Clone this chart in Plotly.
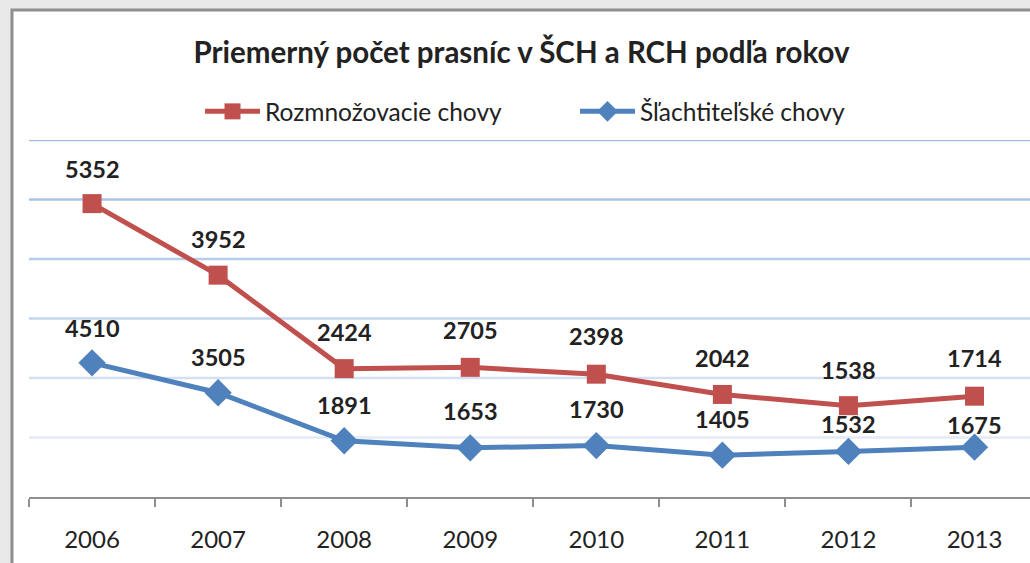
import plotly.graph_objects as go
import numpy as np

years = ["2006", "2007", "2008", "2009", "2010", "2011", "2012", "2013"]
slachtitelske = [4510, 3505, 1891, 1653, 1730, 1405, 1532, 1675]
rozmnozovacie = [5352, 3952, 2424, 2705, 2398, 2042, 1538, 1714]

title_text = "Priemerný počet prasníc v ŠCH a RCH podľa rokov"
name_r = "Rozmnožovacie chovy"
name_s = "Šľachtiteľské chovy"

RED = "#C0504D"
BLUE = "#4F81BD"
FONT = "Lato"

fig = go.Figure()
fig.add_trace(go.Scatter(
    x=years, y=slachtitelske, name=name_s, stackgroup="one", fill="none",
    mode="lines+markers", line=dict(color=BLUE, width=5),
    marker=dict(symbol="diamond", size=21, color=BLUE),
))
fig.add_trace(go.Scatter(
    x=years, y=rozmnozovacie, name=name_r, stackgroup="one", fill="none",
    mode="lines+markers", line=dict(color=RED, width=5),
    marker=dict(symbol="square", size=19, color=RED),
))

# data labels
cum_s = np.array(slachtitelske)
cum_r = cum_s + np.array(rozmnozovacie)
shift_s = [35, 36, 36, 37, 37, 36, 27, 22]
shift_r = [35, 36, 37, 37, 38, 36, 36, 38]
ann = []
for i, yr in enumerate(years):
    ann.append(dict(xref="x", yref="y", x=i, y=float(cum_s[i]), text=f"<b>{slachtitelske[i]}</b>",
                    showarrow=False, yshift=shift_s[i],
                    font=dict(family=FONT, size=23.5, color="#222222")))
    ann.append(dict(xref="x", yref="y", x=i, y=float(cum_r[i]), text=f"<b>{rozmnozovacie[i]}</b>",
                    showarrow=False, yshift=shift_r[i],
                    font=dict(family=FONT, size=23.5, color="#222222")))

grid_colors = ["#E2EAF6", "#D4E0F2", "#C5D6EE", "#B7CCEA", "#ABC3E7", "#A3BDE5"]
shapes = [dict(type="rect", xref="paper", yref="paper", x0=-0.017, x1=1.2, y0=-0.4, y1=1.364,
               fillcolor="white", line=dict(color="#8F8F8F", width=3), layer="below")]
for k, gv in enumerate([2000, 4000, 6000, 8000, 10000, 12000]):
    shapes.append(dict(type="line", xref="paper", yref="y", x0=0, x1=1, y0=gv, y1=gv,
                       line=dict(color=grid_colors[k], width=2.5), layer="below"))

fig.update_layout(
    width=1030, height=563,
    margin=dict(l=29, r=0, t=140, b=66),
    paper_bgcolor="#E9E9E9", plot_bgcolor="rgba(0,0,0,0)",
    title=dict(text=f"<b>{title_text}</b>", x=0.492, xref="paper", xanchor="center",
               y=1 - 53 / 563, yref="container", yanchor="middle",
               font=dict(family=FONT, size=29.5, color="#222222")),
    legend=dict(orientation="h", x=(200 - 29) / 1001, xanchor="left", y=1.08, yanchor="middle",
                traceorder="reversed", font=dict(family=FONT, size=24.5, color="#222222"),
                itemwidth=55, entrywidth=305, bgcolor="rgba(0,0,0,0)"),
    showlegend=True,
    annotations=ann,
    shapes=shapes,
    xaxis=dict(type="category", range=[-0.5, 7.44], showgrid=False, showline=True,
               linecolor="#8F8F8F", linewidth=2, ticks="outside", tickson="boundaries",
               ticklen=8, tickcolor="#8F8F8F", tickwidth=2, ticklabelstandoff=20,
               tickfont=dict(family=FONT, size=24, color="#222222"), fixedrange=True),
    yaxis=dict(range=[0, 12000], showgrid=False, showticklabels=False, zeroline=False,
               showline=False, fixedrange=True),
)

fig.write_html("out.html", config={"displayModeBar": False},
               post_script="document.body.style.margin='0';document.body.style.overflow='hidden';")
